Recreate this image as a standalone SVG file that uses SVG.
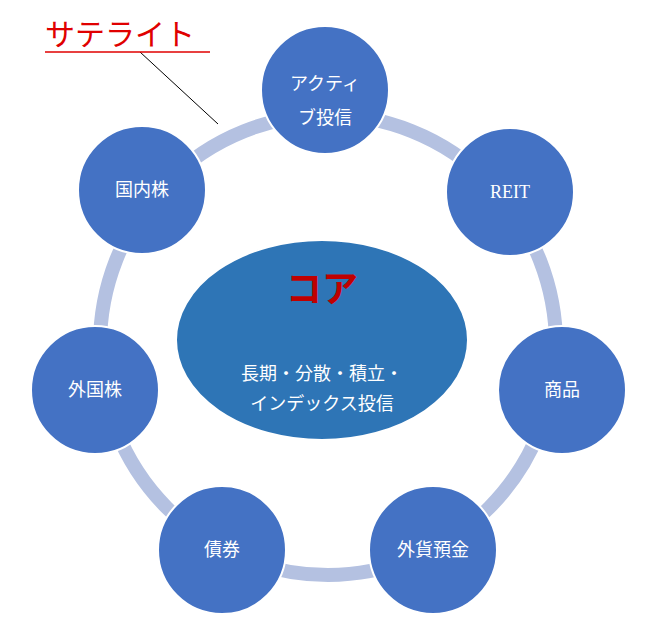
<svg xmlns="http://www.w3.org/2000/svg" width="649" height="629" viewBox="0 0 649 629">
<style>
.n{fill:#4472C4;stroke:#fff;stroke-width:2}
.t{fill:#fff;font-family:"Liberation Serif","Noto Sans CJK JP",serif;font-size:18px;text-anchor:middle}
</style>
<rect width="649" height="629" fill="#fff"/>
<g id="connectors">
<ellipse cx="328" cy="345" rx="228" ry="230" fill="none" stroke="#B4C1E1" stroke-width="14"/>
<line x1="140" y1="52" x2="218" y2="124" stroke="#000" stroke-width="1"/>
</g>
<g id="satellite-label">
<text x="45" y="45" fill="#E00000" font-family="'Liberation Serif','Noto Sans CJK JP',serif" font-size="30">サテライト</text>
<line x1="45" y1="52" x2="210" y2="52" stroke="#E00000" stroke-width="1.5"/>
</g>
<g id="core">
<ellipse cx="322" cy="340" rx="146" ry="100" fill="#2E75B6" stroke="#fff" stroke-width="2"/>
<text x="322" y="302" fill="#C00000" font-family="'Liberation Serif','Noto Sans CJK JP',serif" font-size="36" font-weight="bold" text-anchor="middle">コア</text>
<text class="t" x="322" y="380">長期・分散・積立・</text>
<text class="t" x="322" y="410">インデックス投信</text>
</g>
<g id="active"><circle class="n" cx="325" cy="90" r="64"/><text class="t" x="325" y="90">アクティ</text><text class="t" x="325" y="124">ブ投信</text></g>
<g id="reit"><circle class="n" cx="510" cy="192" r="64"/><text class="t" x="510" y="198">REIT</text></g>
<g id="shohin"><circle class="n" cx="562" cy="390" r="64"/><text class="t" x="562" y="396">商品</text></g>
<g id="gaika"><circle class="n" cx="433" cy="550" r="64"/><text class="t" x="433" y="556">外貨預金</text></g>
<g id="saiken"><circle class="n" cx="222" cy="550" r="64"/><text class="t" x="222" y="556">債券</text></g>
<g id="gaikokukabu"><circle class="n" cx="95" cy="390" r="64"/><text class="t" x="95" y="396">外国株</text></g>
<g id="kokunaikabu"><circle class="n" cx="142" cy="190" r="64"/><text class="t" x="142" y="196">国内株</text></g>
</svg>
